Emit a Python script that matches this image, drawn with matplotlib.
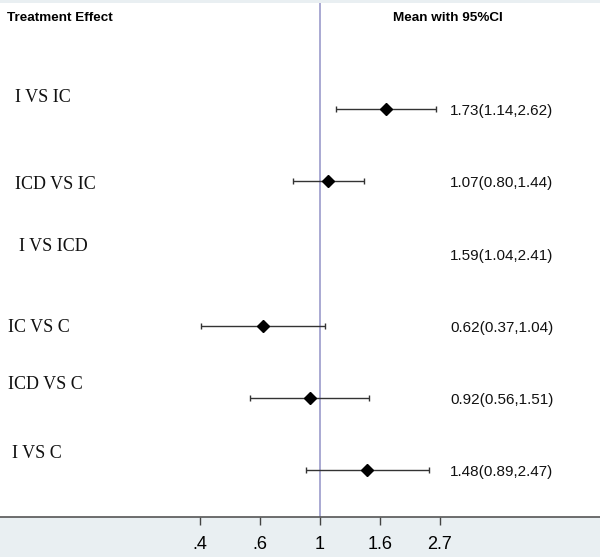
import numpy as np
import matplotlib
matplotlib.use('Agg')
import matplotlib.pyplot as plt

# comparisons, top to bottom
labels = ['I VS IC', 'ICD VS IC', 'I VS ICD', 'IC VS C', 'ICD VS C', 'I VS C']
means = [1.73, 1.07, 1.59, 0.62, 0.92, 1.48]
lower = [1.14, 0.80, 1.04, 0.37, 0.56, 0.89]
upper = [2.62, 1.44, 2.41, 1.04, 1.51, 2.47]
# the I VS ICD row has no marker in the original
drawn = [True, True, False, True, True, True]

tick_vals = np.exp([-1, -0.5, 0, 0.5, 1])
tick_labels = ['.4', '.6', '1', '1.6', '2.7']

# label placement tweaks (px from left, row offset)
label_x = [15, 15, 19, 8, 8, 12]
label_dy = [-0.16, 0.05, -0.09, 0.03, -0.18, -0.235]

fig = plt.figure(figsize=(6, 5.57), dpi=100, facecolor='#e9eff2')
ax = fig.add_axes([0, 40 / 557, 1, 514 / 557])
ax.set_facecolor('white')

ax.set_xscale('log')
ax.set_xlim(np.exp(-320 / 120), np.exp(280 / 120))
ax.set_ylim(5.65, -1.468)

ax.axvline(1, color='#a3a3cf', lw=1.3, zorder=1)

for i in range(len(labels)):
    if drawn[i]:
        err = [[means[i] - lower[i]], [upper[i] - means[i]]]
        ax.errorbar(means[i], i, xerr=err, fmt='D', color='black',
                    ecolor='#333333', elinewidth=1.0, capsize=2.5,
                    capthick=1.0, markersize=6.5, zorder=3)
    ax.text(label_x[i] / 600, i + label_dy[i], labels[i],
            transform=ax.get_yaxis_transform(), ha='left', va='center',
            fontsize=13, family='Liberation Serif', color='#111111')
    txt = '%.2f(%.2f,%.2f)' % (means[i], lower[i], upper[i])
    ax.text(450 / 600, i + 0.03, txt, transform=ax.get_yaxis_transform(),
            ha='left', va='center', fontsize=11, family='Liberation Sans',
            color='#111111')

fig.text(7 / 600, 1 - 18 / 557, 'Treatment Effect', ha='left', va='center',
         fontsize=9.7, fontweight='bold', family='Liberation Sans')
fig.text(503 / 600, 1 - 18 / 557, 'Mean with 95%CI', ha='right', va='center',
         fontsize=9.7, fontweight='bold', family='Liberation Sans')

ax.set_xticks(tick_vals)
ax.set_xticklabels(tick_labels, family='Liberation Sans', fontsize=13)
ax.xaxis.set_minor_locator(matplotlib.ticker.NullLocator())
ax.tick_params(axis='x', length=6, width=1, color='#444444', pad=8)
ax.set_yticks([])
for s in ['top', 'left', 'right']:
    ax.spines[s].set_visible(False)
ax.spines['bottom'].set_color('#555555')
ax.spines['bottom'].set_linewidth(1.2)

fig.savefig('out.png', dpi=100, facecolor=fig.get_facecolor())
